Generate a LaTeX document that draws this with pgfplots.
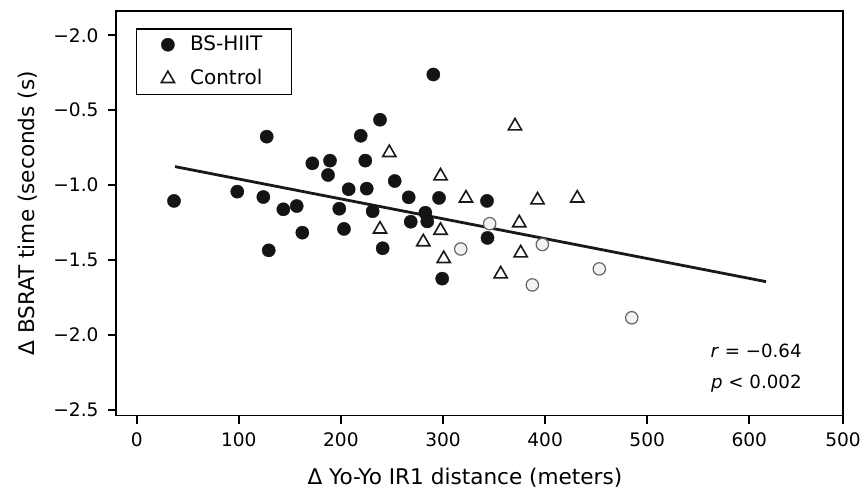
\documentclass[border=0pt]{standalone}
\usepackage{fontspec}
\setmainfont{DejaVu Sans}
\usepackage{pgfplots}
\pgfplotsset{compat=1.18}

\begin{document}
\begin{tikzpicture}
\begin{axis}[
    at={(0,0)}, anchor=south west,
    scale only axis,
    width=363.5pt, height=202.35pt,
    xmin=-20.3, xmax=691.8,
    ymin=-2.540, ymax=0.162,
    axis line style={line width=0.8pt, black},
    xtick={0,100,200,300,400,500,600,691.8},
    xticklabels={0,100,200,300,400,500,600,500},
    ytick={-2.5,-2,-1.5,-1,-0.5,0},
    yticklabels={−2.5,−2.0,−1.5,−1.0,−0.5,−2.0},
    tick align=outside, xtick pos=bottom, ytick pos=left,
    major tick length=4pt,
    tick style={line width=0.8pt, black},
    tick label style={font=\fontsize{9.3}{11}\selectfont},
    xticklabel style={yshift=-1pt},
    yticklabel style={xshift=-1.2pt},
    xlabel={Δ Yo-Yo IR1 distance (meters)},
    ylabel={Δ BSRAT time (seconds (s)},
    label style={font=\fontsize{10.8}{12}\selectfont},
    xlabel style={at={(axis description cs:0.48,-0.1712)}, anchor=base},
    ylabel style={at={(axis description cs:-0.112,0.5)}, anchor=base},
    legend style={at={(axis description cs:0.0271,0.957)}, anchor=north west,
        draw=black, line width=0.6pt, fill=white,
        inner xsep=12.5pt, inner ysep=1.4pt, row sep=4pt, column sep=5.8pt,
        font=\fontsize{10}{12}\selectfont},
    legend cell align=left,
    legend image code/.code={\draw[#1] plot coordinates {(0pt,0pt)};},
]

% regression line
\addplot[line width=1.4pt, black!90, forget plot]
    coordinates {(37.5,-0.877) (616.4,-1.645)};

% BS-HIIT
\addplot[only marks, mark=*, mark size=3.3pt,
    mark options={fill=black!92, draw=black!92, line width=0.2pt}]
    coordinates {
    (36.5,-1.106) (98.5,-1.044) (124.0,-1.080) (127.3,-0.677) (129.3,-1.436)
    (143.6,-1.162) (156.7,-1.140) (162.2,-1.318) (172.0,-0.855) (189.3,-0.837)
    (187.4,-0.933) (198.4,-1.158) (203.0,-1.293) (207.6,-1.028) (219.4,-0.671)
    (223.9,-0.837) (225.3,-1.024) (238.3,-0.564) (231.1,-1.175) (240.9,-1.422)
    (252.7,-0.973) (266.4,-1.082) (268.4,-1.245) (282.7,-1.185) (284.6,-1.243)
    (290.5,-0.262) (296.1,-1.086) (299.2,-1.625) (343.1,-1.106) (343.6,-1.353)
    };
\addlegendentry{BS-HIIT}

% Control
\addplot[only marks, mark=triangle*, mark size=3.8pt,
    mark options={fill=white, draw=black!90, line width=0.8pt}]
    coordinates {
    (370.5,-0.606) (247.4,-0.784) (297.6,-0.940) (322.5,-1.088) (392.6,-1.100)
    (431.5,-1.088) (374.7,-1.253) (238.3,-1.295) (297.6,-1.303) (280.7,-1.380)
    (376.1,-1.454) (300.7,-1.492) (356.5,-1.594)
    };
\addlegendentry{Control}

% open circles
\addplot[only marks, mark=*, mark size=3.1pt, forget plot,
    mark options={fill=black!5, draw=black!60, line width=0.6pt}]
    coordinates {
    (345.7,-1.258) (317.4,-1.427) (397.3,-1.397) (387.5,-1.667)
    (453.1,-1.560) (484.9,-1.886)
    };

\node[anchor=base east, inner sep=0pt, font=\fontsize{9.1}{11}\selectfont]
    at (axis description cs:0.9436,0.1426) {\textit{r} = −0.64};
\node[anchor=base east, inner sep=0pt, font=\fontsize{9.1}{11}\selectfont]
    at (axis description cs:0.9436,0.0684) {\textit{p} < 0.002};
\end{axis}
\pgfresetboundingbox
\path[use as bounding box] (-58pt,-38.65pt) rectangle (374pt,207.85pt);
\end{tikzpicture}
\end{document}
